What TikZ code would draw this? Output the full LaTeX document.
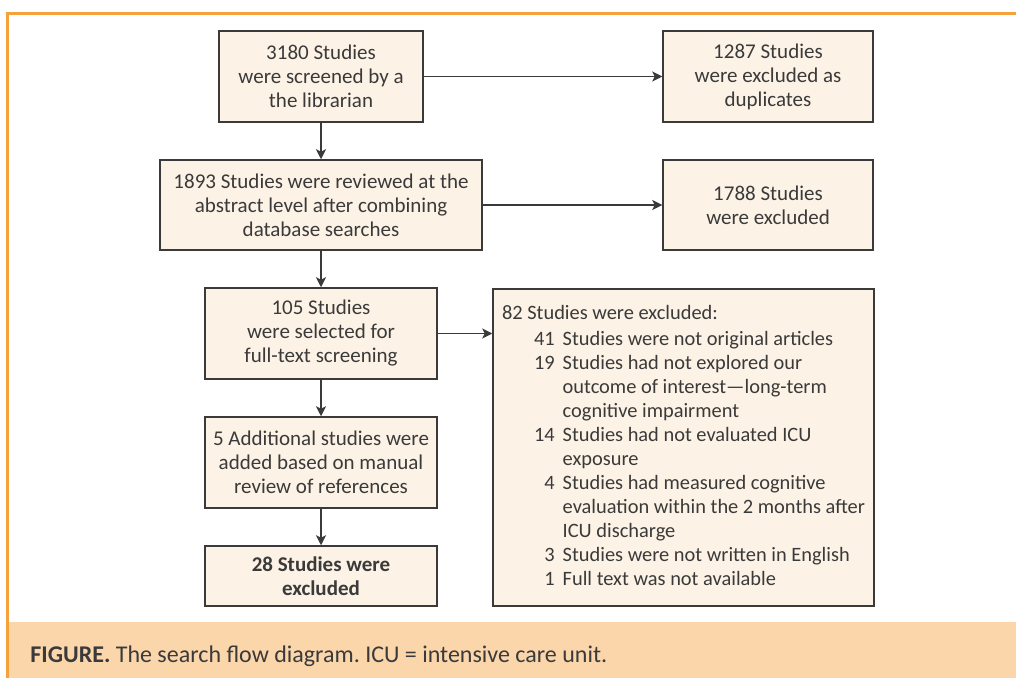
\documentclass[tikz,border=0pt]{standalone}
\usepackage{fontspec}
\setmainfont{Carlito}
\usepackage{tikz}
\usetikzlibrary{positioning,arrows.meta}
\usepackage{xcolor}
\definecolor{framecol}{HTML}{F5A23C}
\definecolor{capcol}{HTML}{FCD6AB}
\definecolor{boxcol}{HTML}{FDF2E6}
\definecolor{inkcol}{HTML}{3A3A3A}
\frenchspacing

\begin{document}
\begin{tikzpicture}[x=0.5pt, y=-0.5pt,
    box/.style={draw=inkcol, fill=boxcol, line width=0.75pt, inner sep=0pt, align=center,
                text=inkcol, font=\fontsize{10.5}{12}\selectfont},
    arr/.style={draw=inkcol, line width=0.75pt, -{Stealth[length=5pt, width=5pt, inset=1.2pt]}}]

  % Canvas
  \useasboundingbox (0,0) rectangle (1016,678);

  % Frame and caption band
  \fill[capcol] (9,622) rectangle (1016,678);
  \draw[framecol, line width=1.5pt] (7.5,678) -- (7.5,13.5) -- (1016,13.5);
  \node[anchor=west, inner sep=0pt, text=inkcol, font=\fontsize{12}{14}\selectfont] (cap) at (30,656)
    {\textbf{FIGURE.} The search flow diagram. ICU = intensive care unit.};

  % Main column
  \node[box, minimum width=102pt, minimum height=45.5pt] (scr) at (321,76.5)
    {3180 Studies\\were screened by a\\the librarian};
  \node[box, minimum width=161pt, minimum height=45pt] (abs) at (321,205)
    {1893 Studies were reviewed at the\\abstract level after combining\\database searches};
  \node[box, minimum width=116pt, minimum height=45.5pt] (full) at (321,333.5)
    {105 Studies\\were selected for\\full-text screening};
  \node[box, minimum width=116pt, minimum height=45.5pt] (add) at (321,462.5)
    {5 Additional studies were\\added based on manual\\review of references};
  \node[box, minimum width=116pt, minimum height=30pt, font=\fontsize{10.5}{12}\selectfont\bfseries] (fin) at (321,576)
    {28 Studies were\\excluded};

  % Exclusions
  \node[box, minimum width=105pt, minimum height=45.5pt] (dup) at (768,76.5)
    {1287 Studies\\were excluded as\\duplicates};
  \node[box, minimum width=105pt, minimum height=45pt] (exa) at (768,205)
    {1788 Studies\\were excluded};
  \node[box, minimum width=190.5pt, minimum height=158.5pt, align=left,
        font=\fontsize{10.2}{12}\selectfont] (exb) at (683.5,447.5)
    {\begin{tabular}{@{\hspace{16pt}}r@{\hspace{4pt}}l@{}}
      \multicolumn{2}{@{}l@{}}{82 Studies were excluded:}\\[1.3pt]
      41 & Studies were not original articles\\
      19 & Studies had not explored our\\
         & outcome of interest---long-term\\
         & cognitive impairment\\
      14 & Studies had not evaluated ICU\\
         & exposure\\
       4 & Studies had measured cognitive\\
         & evaluation within the 2 months after\\
         & ICU discharge\\
       3 & Studies were not written in English\\
       1 & Full text was not available
    \end{tabular}};

  % Arrows
  \draw[arr] (scr) -- (abs);
  \draw[arr] (abs) -- (full);
  \draw[arr] (full) -- (add);
  \draw[arr] (add) -- (fin);
  \draw[arr] (scr) -- (dup);
  \draw[arr] (abs) -- (exa);
  \draw[arr] (full) -- (full -| exb.west);

\end{tikzpicture}
\end{document}
